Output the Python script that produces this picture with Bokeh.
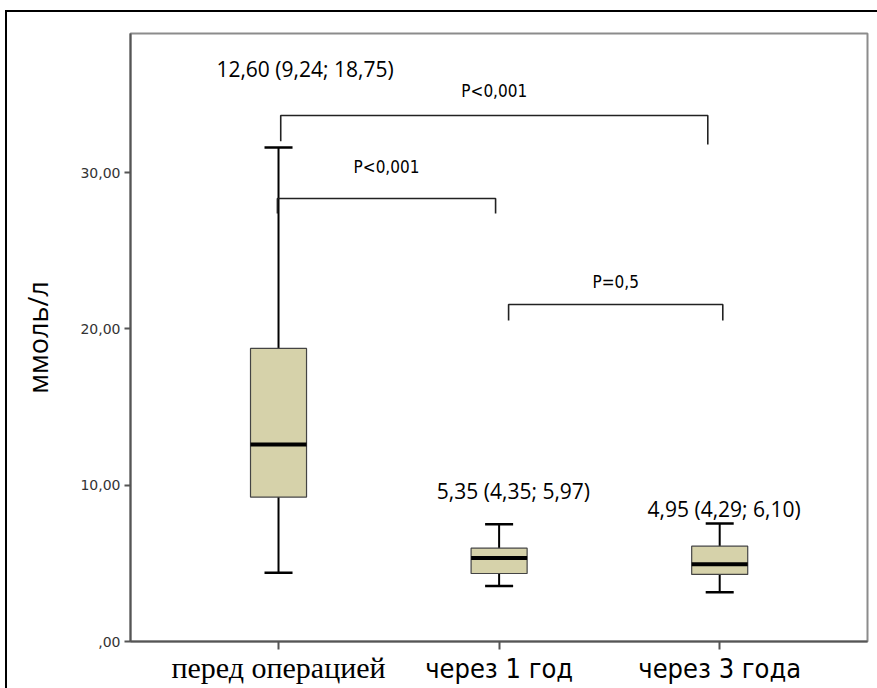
from bokeh.plotting import figure
from bokeh.models import Range1d, FixedTicker, Label, ColumnDataSource, LinearAxis
from bokeh.embed import file_html
from bokeh.resources import INLINE

# ---- data ----
categories = ["перед операцией", "через 1 год", "через 3 года"]
positions = [1, 2, 3]
medians = [12.60, 5.35, 4.95]
q1 = [9.24, 4.35, 4.29]
q3 = [18.75, 5.97, 6.10]
whisker_low = [4.40, 3.55, 3.15]
whisker_high = [31.60, 7.50, 7.55]
summary_text = ["12,60 (9,24; 18,75)", "5,35 (4,35; 5,97)", "4,95 (4,29; 6,10)"]

y_ticks = [0, 10, 20, 30]
y_tick_labels = [",00", "10,00", "20,00", "30,00"]

bracket_start = [1.01, 0.995, 2.043]
bracket_end = [2.946, 1.984, 3.014]
bracket_top = [33.65, 28.34, 21.56]
bracket_leg_left = [32.0, 27.38, 20.54]
bracket_leg_right = [31.8, 27.38, 20.54]
p_text = ["P<0,001", "P<0,001", "P=0,5"]

# label placement (layout, not data)
summary_x = [1.12, 2.065, 3.02]
summary_y = [36.66, 9.66, 8.45]
p_label_y = [35.25, 30.33, 22.97]

BOX_HALF = 0.127
CAP_HALF = 0.0635
NARROW = "DejaVu Sans Condensed, Roboto Condensed, Roboto"

p = figure(frame_width=737, frame_height=608,
           min_border_left=123, min_border_right=10,
           min_border_top=21, min_border_bottom=47,
           x_range=Range1d(0.329, 3.67), y_range=Range1d(0, 38.9),
           output_backend="svg", toolbar_location=None)
p.styles = {"margin-left": "5px", "margin-top": "10px",
            "border-top": "2px solid black", "border-left": "2px solid black"}

p.xgrid.visible = False
p.ygrid.visible = False
p.outline_line_color = "#8c8c8c"
p.outline_line_width = 2
p.background_fill_color = "white"

# y axis
p.yaxis.ticker = FixedTicker(ticks=y_ticks)
p.yaxis.major_label_overrides = {t: l for t, l in zip(y_ticks, y_tick_labels)}
p.yaxis.major_label_text_font = "DejaVu Sans"
p.yaxis.major_label_text_font_size = "14px"
p.yaxis.major_label_text_color = "#333333"
p.yaxis.major_tick_out = 6
p.yaxis.major_tick_in = 0
p.yaxis.minor_tick_line_color = None
p.yaxis.major_label_standoff = 4
p.yaxis.axis_line_color = "#555555"
p.yaxis.axis_line_width = 2
p.yaxis.major_tick_line_color = "#555555"
p.yaxis.major_tick_line_width = 2
p.yaxis.axis_label = "ммоль/л"
p.yaxis.axis_label_text_font = "Open Sans"
p.yaxis.axis_label_text_font_style = "normal"
p.yaxis.axis_label_text_font_size = "27px"
p.yaxis.axis_label_text_color = "black"
p.yaxis.axis_label_standoff = 21

# x axis: first category label (serif) on the main axis
xa = p.xaxis[0]
xa.ticker = FixedTicker(ticks=positions)
xa.major_label_overrides = {pos: (cat if i == 0 else "") for i, (pos, cat) in enumerate(zip(positions, categories))}
xa.major_label_text_font = "Liberation Serif"
xa.major_label_text_font_size = "30px"
xa.major_label_text_color = "black"
xa.major_label_standoff = 1
xa.major_tick_out = 8
xa.major_tick_in = 0
xa.minor_tick_line_color = None
xa.axis_line_color = "#555555"
xa.axis_line_width = 2
xa.major_tick_line_color = "#555555"
xa.major_tick_line_width = 2

# x axis: remaining category labels (sans), pulled up beside the first
xb = LinearAxis(ticker=FixedTicker(ticks=positions[1:]))
xb.major_label_overrides = {pos: cat for pos, cat in zip(positions[1:], categories[1:])}
xb.major_label_text_font = NARROW
xb.major_label_text_font_size = "27px"
xb.major_label_text_color = "black"
xb.major_label_standoff = -34
xb.major_tick_out = 0
xb.major_tick_in = 0
xb.major_tick_line_color = None
xb.minor_tick_line_color = None
xb.axis_line_color = None
p.add_layout(xb, "below")

# boxes
src = ColumnDataSource(dict(
    x=positions, q1=q1, q3=q3, med=medians, lo=whisker_low, hi=whisker_high,
    xl=[v - BOX_HALF for v in positions], xr=[v + BOX_HALF for v in positions],
    cl=[v - CAP_HALF for v in positions], cr=[v + CAP_HALF for v in positions],
))
p.segment(x0="x", x1="x", y0="q3", y1="hi", source=src, line_color="black", line_width=2)
p.segment(x0="x", x1="x", y0="lo", y1="q1", source=src, line_color="black", line_width=2)
p.segment(x0="cl", x1="cr", y0="hi", y1="hi", source=src, line_color="black", line_width=2.5)
p.segment(x0="cl", x1="cr", y0="lo", y1="lo", source=src, line_color="black", line_width=2.5)
p.vbar(x="x", width=2 * BOX_HALF, bottom="q1", top="q3", source=src,
       fill_color="#d6d2aa", line_color="#444444", line_width=1.2)
p.segment(x0="xl", x1="xr", y0="med", y1="med", source=src, line_color="black", line_width=4)

# brackets
xs = [[a, a, b, b] for a, b in zip(bracket_start, bracket_end)]
ys = [[l, t, t, r] for l, t, r in zip(bracket_leg_left, bracket_top, bracket_leg_right)]
p.multi_line(xs=xs, ys=ys, line_color="#222222", line_width=1.6)

for a, b, txt, yy in zip(bracket_start, bracket_end, p_text, p_label_y):
    p.add_layout(Label(x=(a + b) / 2, y=yy, text=txt, text_align="center",
                       text_baseline="middle", text_font=NARROW,
                       text_font_size="17px", text_color="black"))

for sx, sy, txt in zip(summary_x, summary_y, summary_text):
    p.add_layout(Label(x=sx, y=sy, text=txt, text_align="center",
                       text_baseline="middle", text_font="Open Sans",
                       text_font_size="21px", text_color="black"))

open("out.html", "w").write(file_html(p, INLINE))
